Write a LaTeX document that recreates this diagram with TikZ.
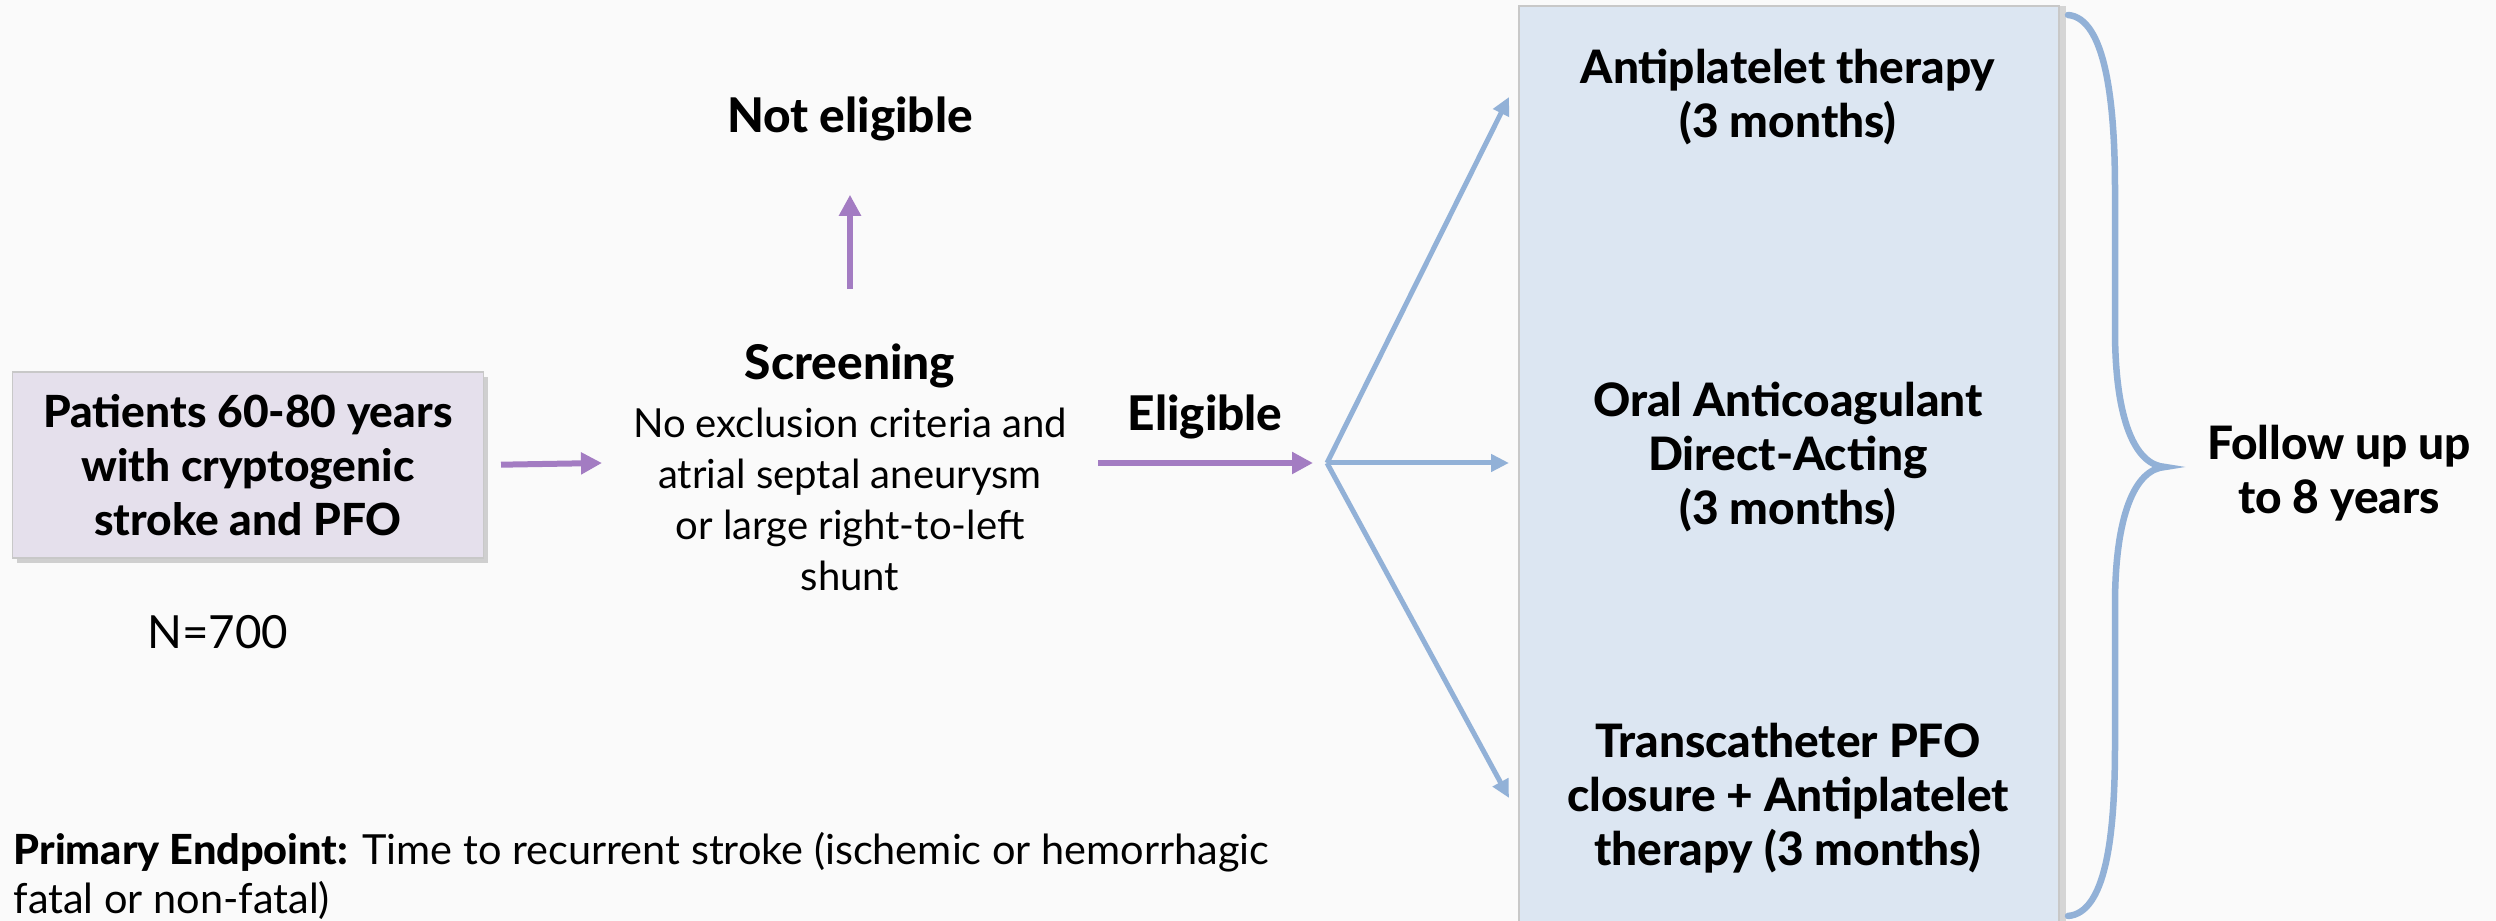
\documentclass[tikz,border=0pt]{standalone}
\usepackage{fontspec}
\setmainfont{Lato}[BoldFont={Lato Heavy}]
\usetikzlibrary{arrows.meta,shadows,calc}
\definecolor{bgc}{HTML}{FAFAFA}
\definecolor{purp}{HTML}{A37CC2}
\definecolor{blu}{HTML}{92B1D7}
\definecolor{panelfill}{HTML}{DCE6F2}
\definecolor{patfill}{HTML}{E5E0EC}
\definecolor{edgegray}{HTML}{C8C8C8}
\begin{document}
\begin{tikzpicture}[x=0.1mm,y=-0.1mm,
  bt/.style={font=\fontsize{12.6}{15.4}\selectfont\bfseries, align=center, inner sep=0pt},
  btl/.style={bt, font=\fontsize{13.6}{15.4}\selectfont\bfseries},
  btm/.style={bt, font=\fontsize{13.1}{15.4}\selectfont\bfseries},
  rt/.style={font=\fontsize{11.4}{14.5}\selectfont, align=center, inner sep=0pt},
  patbox/.style={bt, draw=edgegray, line width=0.3pt, fill=patfill, minimum width=47.1mm, minimum height=18.6mm,
    drop shadow={opacity=0.35, shadow xshift=0.4mm, shadow yshift=-0.5mm}},
  panelbox/.style={draw=edgegray, line width=0.3pt, fill=panelfill, minimum width=54.0mm, minimum height=93.4mm,
    drop shadow={opacity=0.3, shadow xshift=0.7mm, shadow yshift=0mm}},
  parr/.style={draw=purp, line width=0.6mm, -{Triangle[length=2.1mm,width=2.1mm]}},
  barr/.style={draw=blu, line width=0.5mm, -{Triangle[length=1.8mm,width=1.7mm]}},
  brace/.style={draw=blu, line width=0.65mm, line cap=round}]
\fill[bgc] (0,0) rectangle (2496,921);
\useasboundingbox (0,0) rectangle (2496,921);

% patients box
\node[patbox] (pat) at (248,465) {Patients 60-80 years\\with cryptogenic\\stroke and PFO};
\node[rt, font=\fontsize{13}{15}\selectfont] (n700) at (218,632) {N=700};

% screening
\node[btl] (ne) at (850,119) {Not eligible};
\node[btl] (scr) at (850,366) {Screening};
\node[rt] (crit) at (850,499) {No exclusion criteria and\\atrial septal aneurysm\\or large right-to-left\\shunt};
\node[btl] (elig) at (1205,417) {Eligible};

% treatment panel
\node[panelbox] (panel) at (1789,473) {};
\node[btm] (t1) at (1788,97) {Antiplatelet therapy\\(3 months)};
\node[btm] (t2) at (1788,457) {Oral Anticoagulant\\Direct-Acting\\(3 months)};
\node[btm] (t3) at (1788,798) {Transcatheter PFO\\closure + Antiplatelet\\therapy (3 months)};

% follow up
\node[btm] (fu) at (2339,473) {Follow up up\\to 8 years};

% primary endpoint
\node[rt, align=left, anchor=west, font=\fontsize{11.8}{13.9}\selectfont] (pe) at (13,876) {\textbf{Primary Endpoint:} Time to recurrent stroke (ischemic or hemorrhagic\\fatal or non-fatal)};

% coordinates
\coordinate (a1e) at (602,463);
\coordinate (a2s) at (1098,463);
\coordinate (br) at (1327,463);
\coordinate (tip1) at (1509,97);
\coordinate (tip2) at (1509,463);
\coordinate (tip3) at (1509,798);

% connectors
\draw[parr, shorten <=1.7mm] (pat.east) -- (a1e);
\draw[parr, shorten <=5.4mm, shorten >=5.3mm] (scr) -- (ne);
\draw[parr, shorten >=1.4mm] (a2s) -- (br);
\draw[barr] (br) -- (tip1);
\draw[barr] (br) -- (tip2);
\draw[barr] (br) -- (tip3);

% brace
\draw[brace] (2068,15) .. controls (2105,18) and (2115,100) .. (2115,190) -- (2115,330)
  .. controls (2115,420) and (2135,465) .. (2165,467)
  .. controls (2135,469) and (2115,515) .. (2115,605) -- (2115,745)
  .. controls (2115,840) and (2105,913) .. (2068,916);
\end{tikzpicture}
\end{document}
